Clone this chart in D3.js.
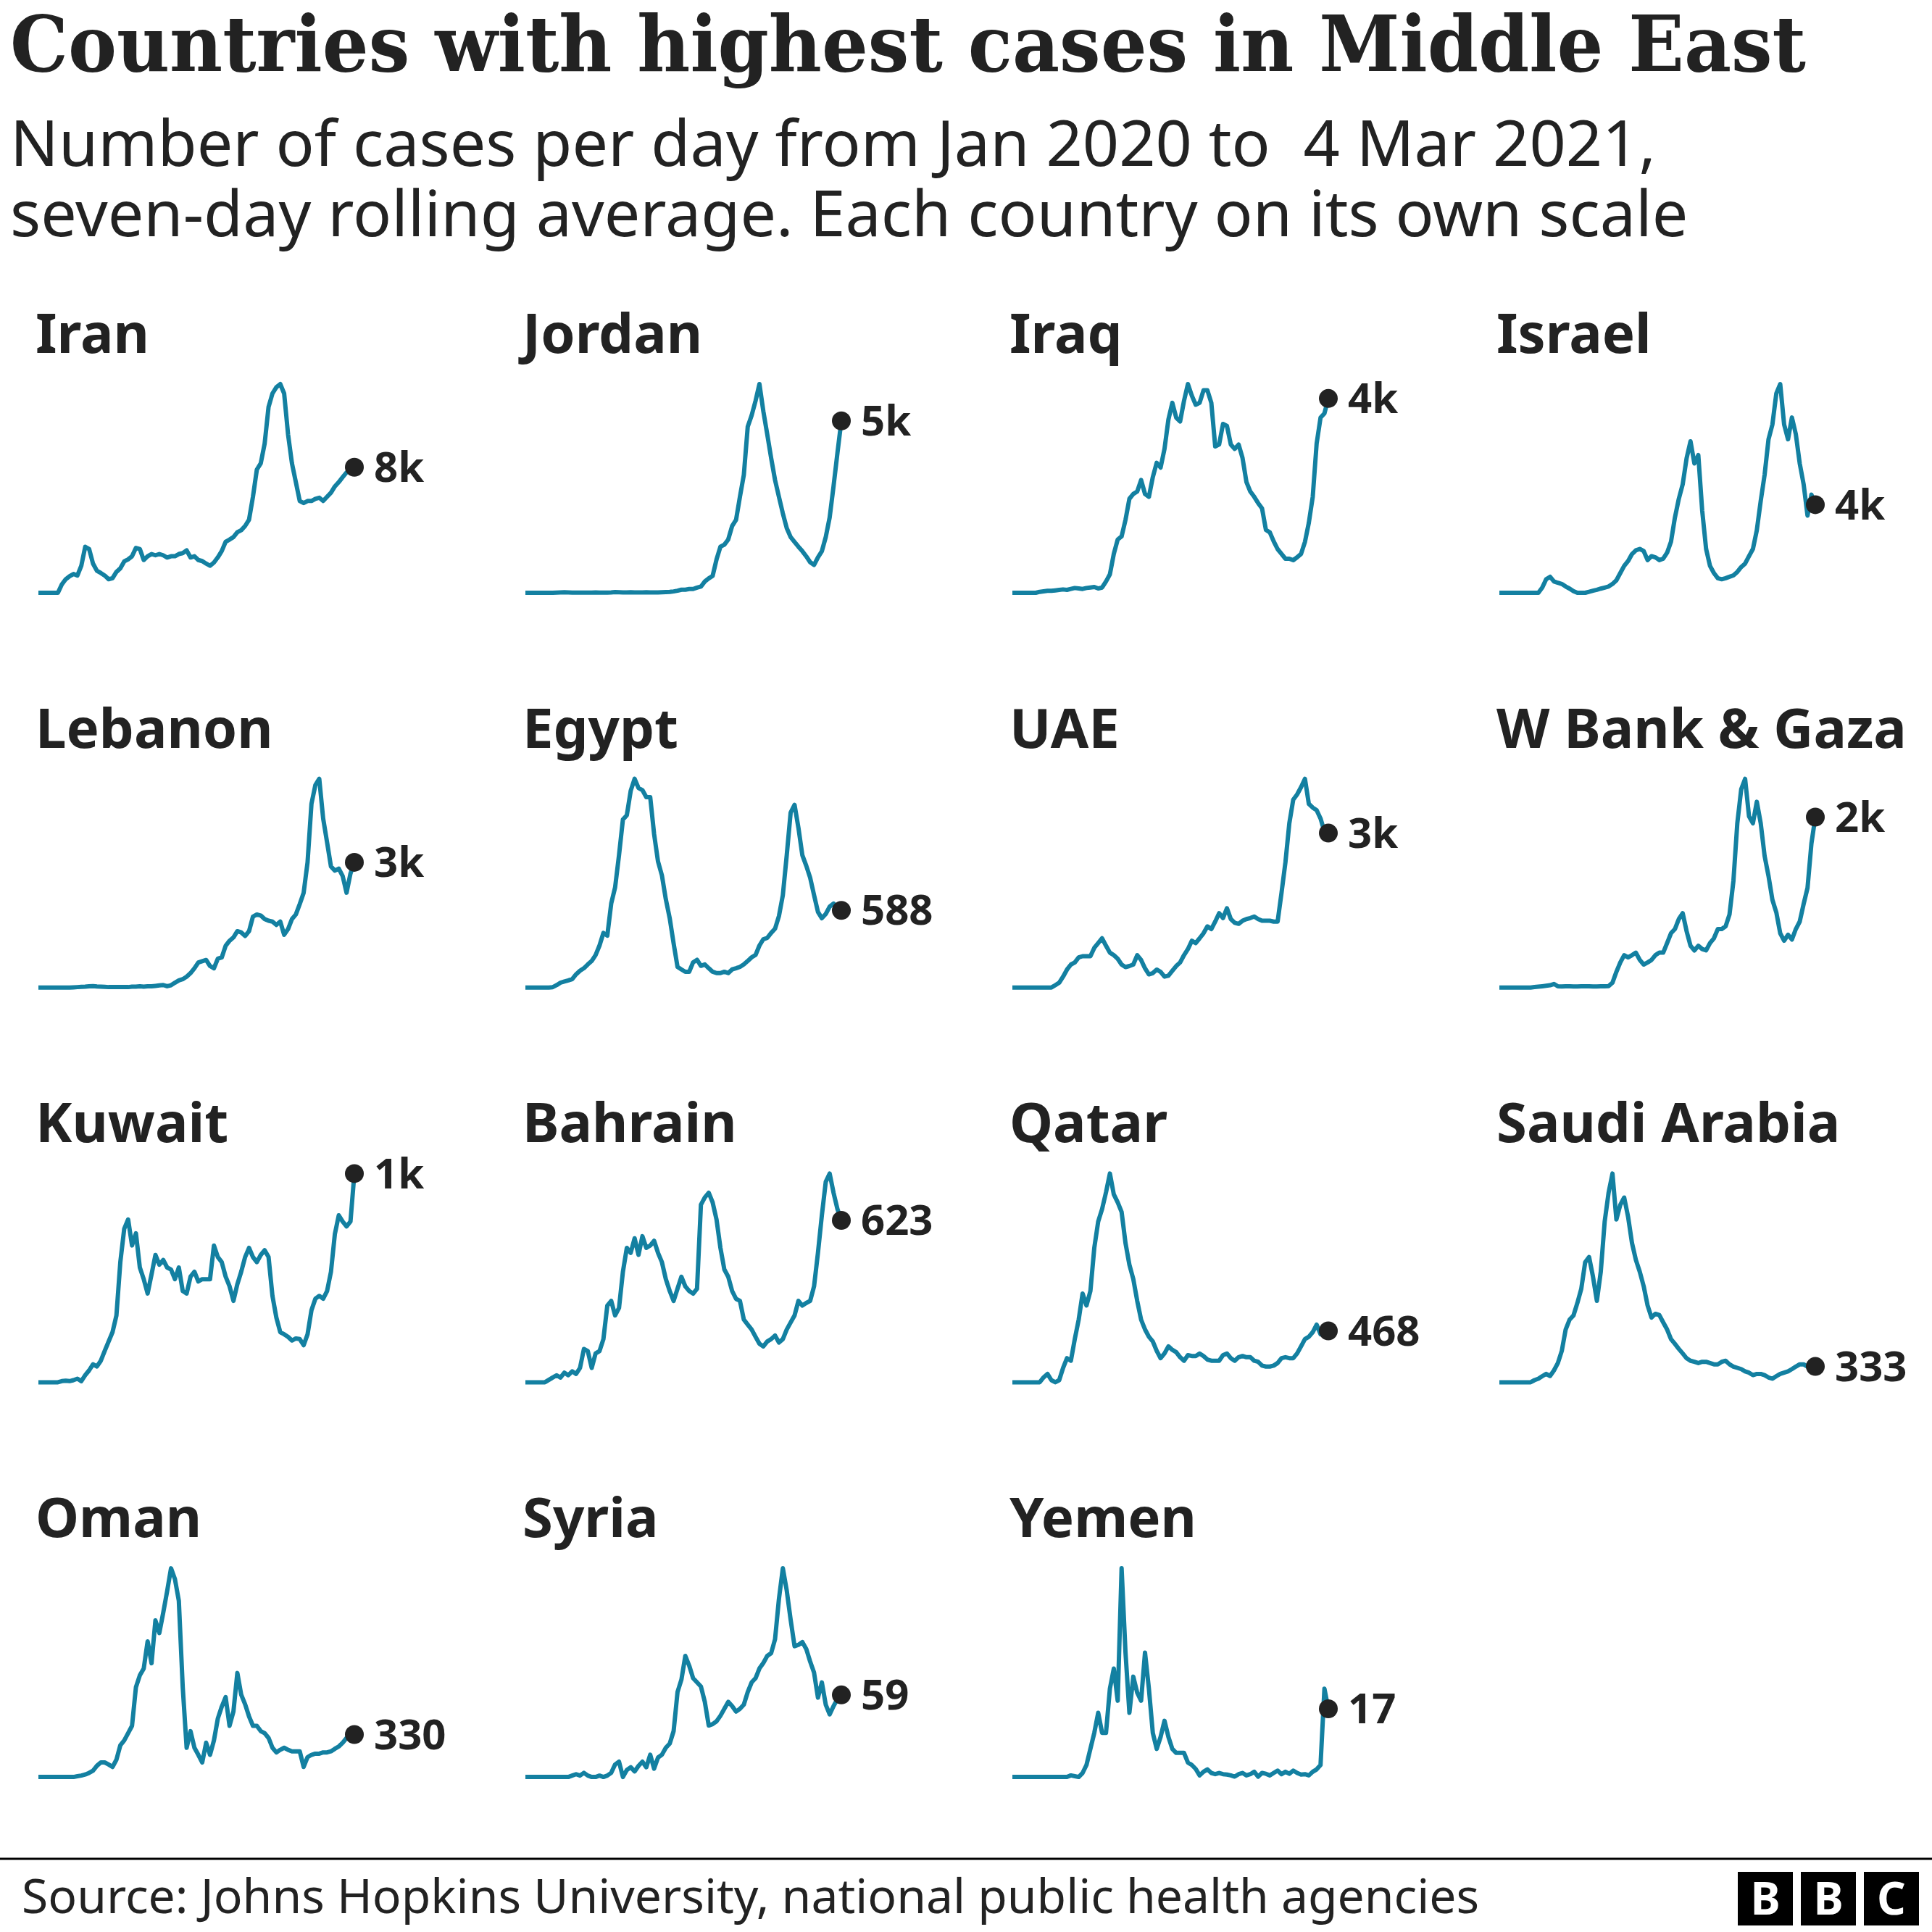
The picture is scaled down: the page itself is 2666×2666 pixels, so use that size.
<!DOCTYPE html>
<html>
<head>
<meta charset="utf-8">
<script src="https://cdn.jsdelivr.net/npm/d3@7"></script>
<style>
  body { margin: 0; background: #fff; }
  svg { display: block; }
</style>
</head>
<body>
<div id="chart"></div>
<script>
// Seven-day average of new cases, one reading every 5 days, 24 Jan 2020 -> 4 Mar 2021
var endDate = new Date(2021, 2, 4);
var stepDays = 5;

var countries = ["Iran", "Jordan", "Iraq", "Israel", "Lebanon", "Egypt", "UAE", "W Bank & Gaza",
                 "Kuwait", "Bahrain", "Qatar", "Saudi Arabia", "Oman", "Syria", "Yemen"];

var iran = [0,0,0,0,0,0,530,865,1060,1200,1100,1730,2930,2790,1860,1400,1260,1100,865,930,1330,1560,2000,2130,2330,2860,2790,2090,2330,2470,2390,2470,2390,2250,2330,2330,2470,2530,2700,2250,2330,2090,2020,1860,1720,1930,2260,2660,3250,3390,3550,3860,3990,4260,4660,6120,7850,8250,9510,11840,12700,13100,13300,12700,10100,8250,7050,5850,5720,5850,5850,5990,6060,5850,6120,6380,6780,7050,7370,7670,7900,8000];
var jordan = [0,0,0,0,0,0,0,0,5,10,15,10,5,5,5,5,5,5,10,5,5,5,10,20,15,10,10,15,10,10,10,15,10,10,10,15,20,25,40,60,90,90,110,110,150,180,330,420,490,970,1340,1400,1550,1940,2120,2790,3430,4830,5160,5580,6070,5280,4610,3920,3280,2790,2310,1880,1620,1480,1340,1210,1060,890,810,1030,1210,1620,2190,3100,4070,5000];
var iraq = [0,0,0,0,0,0,0,20,30,40,40,50,60,70,60,80,100,90,80,100,110,120,90,110,235,385,810,1110,1175,1520,1960,2060,2110,2350,2060,2000,2410,2710,2610,3000,3610,3960,3650,3570,4000,4350,4110,3920,3960,4220,4220,3960,3050,3090,3520,3480,3090,3000,3090,2810,2310,2110,2000,1870,1760,1310,1260,1070,910,810,710,710,680,740,810,1060,1460,2000,3110,3650,3740,4050];
var israel = [0,0,0,0,0,0,0,0,0,0,0,225,585,690,490,430,380,270,180,70,0,0,0,45,90,130,180,225,270,380,540,850,1160,1370,1670,1830,1890,1800,1410,1580,1530,1410,1470,1730,2200,3240,4050,4680,5800,6530,5580,5940,3540,1890,1160,850,630,585,630,690,750,900,1110,1260,1580,1890,2700,3960,5090,6620,7260,8600,9000,7260,6620,7560,6840,5580,4680,3330,4230,3800];
var lebanon = [0,0,0,0,0,0,0,0,0,5,10,15,20,30,35,25,20,15,10,10,10,10,10,10,20,20,30,20,30,30,40,50,60,30,55,115,170,200,260,345,460,600,630,660,515,460,690,720,1000,1120,1200,1350,1320,1235,1350,1700,1750,1725,1640,1600,1580,1500,1580,1265,1400,1640,1750,2000,2270,3000,4400,4850,5000,4050,3480,2900,2800,2850,2670,2270,2730,3000];
var egypt = [0,0,0,0,0,0,0,3,18,37,46,54,64,101,128,147,176,202,248,320,416,395,640,763,1008,1280,1312,1499,1590,1520,1504,1450,1450,1168,960,854,672,528,336,157,138,120,120,192,211,165,176,147,120,110,110,120,110,138,147,157,176,202,230,248,320,368,378,416,448,544,704,1008,1333,1392,1216,1008,928,837,704,576,528,560,616,640,608,588];
var uae = [0,0,0,0,0,0,0,0,0,0,0,43,90,203,335,429,468,562,585,585,585,741,831,920,780,651,605,538,429,382,402,429,605,515,359,246,269,335,293,203,222,312,402,468,605,718,874,831,920,1014,1143,1092,1232,1388,1299,1482,1279,1209,1190,1248,1279,1299,1326,1279,1248,1248,1248,1232,1232,1771,2340,3069,3510,3608,3744,3900,3432,3362,3315,3159,2913,2886];
var wbank = [0,0,0,0,0,0,0,0,0,5,10,15,20,26,41,14,12,15,14,13,12,14,15,14,12,13,14,15,16,55,180,288,372,346,372,401,317,264,288,317,372,401,401,511,624,672,787,854,648,480,427,480,442,427,511,566,672,672,703,840,1224,1889,2280,2400,1968,1889,2136,1889,1512,1282,1008,864,624,538,607,552,672,758,960,1145,1656,1960];
var kuwait = [0,0,0,0,0,0,7,10,7,13,22,7,44,74,112,98,134,195,254,312,416,748,956,1014,852,928,715,642,553,672,793,732,762,715,702,642,715,568,553,658,688,628,642,642,642,852,780,748,658,598,507,611,689,780,837,780,748,793,822,780,538,403,312,299,283,260,273,269,231,299,449,520,538,520,568,688,923,1040,1001,971,1001,1300];
var bahrain = [0,0,0,0,0,0,9,18,27,18,37,27,42,32,55,128,120,55,111,120,166,295,313,257,286,425,517,498,554,490,562,517,526,544,498,462,397,351,313,360,406,369,351,341,360,683,711,729,692,626,517,434,406,351,321,313,241,222,203,175,148,138,157,166,180,153,166,203,230,257,313,295,305,313,369,498,642,771,803,729,666,623];
var qatar = [0,0,0,0,0,0,0,0,44,76,19,0,19,131,219,196,393,570,808,699,830,1224,1463,1577,1729,1900,1710,1638,1550,1267,1070,939,741,570,481,414,371,285,219,262,327,295,274,228,196,247,239,239,262,239,207,196,196,196,247,262,219,196,228,239,228,228,196,186,152,143,143,152,175,219,228,219,219,262,327,393,414,456,524,437,456,468];
var saudi = [0,0,0,0,0,0,0,0,0,44,75,128,176,132,251,405,660,1113,1320,1408,1672,1971,2530,2640,2226,1716,2332,3388,3995,4400,3432,3740,3894,3489,2935,2578,2328,2024,1619,1364,1443,1417,1263,1113,911,810,704,607,506,453,431,405,431,431,405,378,378,431,453,378,330,304,277,229,202,150,176,176,150,101,75,128,176,202,229,277,330,378,378,330,333,333];
var oman = [0,0,0,0,0,0,0,0,0,0,6,11,19,32,49,87,113,113,97,78,134,246,284,340,397,697,789,842,1053,883,1215,1118,1275,1442,1620,1536,1367,697,227,356,227,172,113,266,172,284,454,546,620,397,509,807,638,564,470,397,397,356,340,303,227,191,211,227,211,199,199,199,78,154,172,181,181,191,191,199,219,237,266,303,321,330];
var syria = [0,0,0,0,0,0,0,0,0,0,0,0,1,2,1,3,1,0,0,1,0,1,3,9,11,0,5,7,4,8,11,7,16,6,14,16,21,24,33,61,70,87,80,71,68,65,54,37,38,40,44,49,54,51,47,49,52,61,68,71,78,82,87,89,99,128,150,134,113,94,95,97,92,83,75,57,68,52,45,51,56,59];
var yemen = [0,0,0,0,0,0,0,0,0,0,0,0,0,0,0,0.4,0.2,0,1,3,7,11,16,11,11,22,27,19,52,31,16,25,21,19,31,22,11,7,10,14,10,7,6,6,6,3.6,3,2,0.4,1.3,1.9,1,0.7,1,0.7,0.6,0.4,0.1,0.7,1,0.4,0.7,1.3,0.1,1,0.8,0.4,1,1.6,0.7,1.3,0.8,1.6,1,0.6,0.7,0.4,1.3,1.9,3,22,17];

var seriesList = [iran, jordan, iraq, israel, lebanon, egypt, uae, wbank,
                  kuwait, bahrain, qatar, saudi, oman, syria, yemen];

var titleText = "Countries with highest cases in Middle East";
var subtitleLines = ["Number of cases per day from Jan 2020 to  4 Mar 2021,",
                     "seven-day rolling average. Each country on its own scale"];
var sourceText = "Source: Johns Hopkins University, national public health agencies";

var W = 2666, H = 2666;
var lineColor = "#1380a1", ink = "#222222";
var sans = "'Noto Sans', 'Open Sans', sans-serif";

var svg = d3.select("#chart").append("svg")
    .attr("width", W)
    .attr("height", H);

svg.append("rect").attr("width", W).attr("height", H).attr("fill", "#fff");

// Header
svg.append("text")
    .attr("x", 14).attr("y", 98)
    .attr("font-family", "'DejaVu Serif', serif")
    .attr("font-stretch", "condensed")
    .attr("font-weight", "bold")
    .attr("font-size", 106)
    .attr("textLength", 2478)
    .attr("lengthAdjust", "spacingAndGlyphs")
    .attr("fill", ink)
    .text(titleText);

svg.selectAll("text.sub")
  .data(subtitleLines)
  .join("text")
    .attr("class", "sub")
    .attr("x", 14)
    .attr("y", (d, i) => 229 + i * 97)
    .attr("font-family", sans)
    .attr("font-size", 88)
    .attr("fill", ink)
    .style("white-space", "pre")
    .text(d => d);

// Small multiples
var cols = 4, colStep = 672, rowStep = 544.7;
var chartW = 436, chartH = 288;
var x0 = 53, base0 = 818;

var fmt = v => v >= 1000 ? Math.round(v / 1000) + "k" : String(Math.round(v));

countries.forEach(function(name, k) {
  var values = seriesList[k];
  var col = k % cols, row = Math.floor(k / cols);
  var left = x0 + col * colStep;
  var baseY = base0 + row * rowStep;
  var n = values.length;

  var dates = values.map((v, i) => d3.timeDay.offset(endDate, -stepDays * (n - 1 - i)));
  var pts = values.map((v, i) => ({date: dates[i], value: v}));

  var x = d3.scaleTime()
      .domain([dates[0], endDate])
      .range([left, left + chartW]);
  var y = d3.scaleLinear()
      .domain([0, d3.max(values)])
      .range([baseY, baseY - chartH]);

  var g = svg.append("g").attr("class", "panel");

  g.append("text")
      .attr("x", left - 4)
      .attr("y", baseY - 331)
      .attr("font-family", sans)
      .attr("font-weight", "bold")
      .attr("font-size", 76)
      .attr("fill", ink)
      .text(name);

  g.append("path")
      .datum(pts)
      .attr("fill", "none")
      .attr("stroke", lineColor)
      .attr("stroke-width", 6)
      .attr("stroke-linejoin", "round")
      .attr("d", d3.line().x(d => x(d.date)).y(d => y(d.value)));

  var last = pts[n - 1];
  g.append("circle")
      .attr("cx", x(last.date))
      .attr("cy", y(last.value))
      .attr("r", 13)
      .attr("fill", ink);

  g.append("text")
      .attr("x", x(last.date) + 27)
      .attr("y", y(last.value))
      .attr("dy", "0.35em")
      .attr("font-family", sans)
      .attr("font-weight", "bold")
      .attr("font-size", 58)
      .attr("fill", ink)
      .text(fmt(last.value));
});

// Footer
svg.append("line")
    .attr("x1", 0).attr("x2", W)
    .attr("y1", 2565).attr("y2", 2565)
    .attr("stroke", "#000")
    .attr("stroke-width", 3);

svg.append("text")
    .attr("x", 30).attr("y", 2640)
    .attr("font-family", sans)
    .attr("font-size", 66)
    .attr("fill", ink)
    .text(sourceText);

var logo = svg.append("g").attr("class", "logo");
logo.selectAll("rect")
  .data(["B", "B", "C"])
  .join("rect")
    .attr("x", (d, i) => 2398 + i * 87)
    .attr("y", 2583)
    .attr("width", 76)
    .attr("height", 74)
    .attr("fill", "#000");
logo.selectAll("text")
  .data(["B", "B", "C"])
  .join("text")
    .attr("x", (d, i) => 2398 + i * 87 + 38)
    .attr("y", 2620)
    .attr("dy", "0.36em")
    .attr("text-anchor", "middle")
    .attr("font-family", sans)
    .attr("font-weight", "bold")
    .attr("font-size", 62)
    .attr("fill", "#fff")
    .text(d => d);
</script>
</body>
</html>
